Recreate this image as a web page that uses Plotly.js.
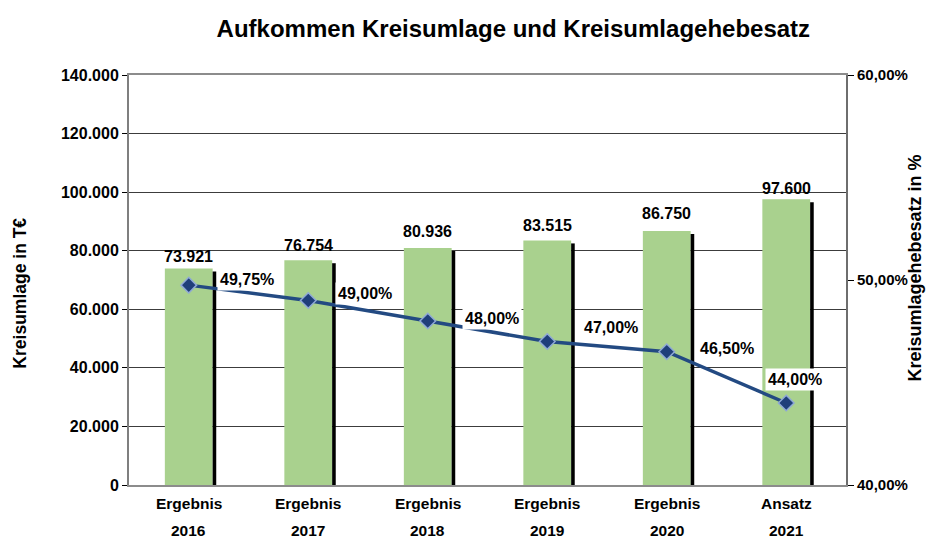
<!DOCTYPE html>
<html>
<head>
<meta charset="utf-8">
<script src="https://cdn.plot.ly/plotly-3.0.1.min.js"></script>
<style>
  html, body { margin: 0; padding: 0; background: #ffffff; }
  #chart { width: 930px; height: 554px; }
</style>
</head>
<body>
<div id="chart"></div>
<script>
// ---- data ----
const categories = ['2016', '2017', '2018', '2019', '2020', '2021'];
const periodTypes = ['Ergebnis', 'Ergebnis', 'Ergebnis', 'Ergebnis', 'Ergebnis', 'Ansatz'];
const umlageTEuro = [73921, 76754, 80936, 83515, 86750, 97600];
const hebesatzPct = [49.75, 49.00, 48.00, 47.00, 46.50, 44.00];

// ---- label placement (style, pixels) ----
const barLabelShift = [12, 15, 16, 15, 17, 11];
const pctLabelShiftX = [58, 57, 64, 64, 60, 9];
const pctLabelShiftY = [6, 7, 3, 14, 3, 24];

const FONT = 'Liberation Sans, Arial, sans-serif';

function fmtThousands(v) {
  return String(v).replace(/\B(?=(\d{3})+(?!\d))/g, '.');
}
function fmtPct(v) {
  return v.toFixed(2).replace('.', ',') + '%';
}

const shadowTrace = {
  type: 'bar',
  x: categories,
  y: umlageTEuro,
  yaxis: 'y2',
  marker: { color: '#000000', line: { width: 0 } },
  width: 0.03,
  offset: 0.2,
  hoverinfo: 'skip',
  showlegend: false
};

const barTrace = {
  type: 'bar',
  x: categories,
  y: umlageTEuro,
  yaxis: 'y',
  marker: { color: '#a9d18e', line: { width: 0 } },
  width: 0.4,
  offset: -0.2,
  showlegend: false
};

const lineTrace = {
  type: 'scatter',
  mode: 'lines+markers',
  x: categories,
  y: hebesatzPct,
  yaxis: 'y3',
  line: { color: '#234a82', width: 3.5 },
  marker: { symbol: 'diamond', size: 12, color: '#1f3f7a', line: { color: '#8fa9d6', width: 1.5 } },
  showlegend: false
};

const annotations = [];
categories.forEach((c, i) => {
  annotations.push({
    x: i, y: umlageTEuro[i], xref: 'x', yref: 'y',
    text: fmtThousands(umlageTEuro[i]),
    showarrow: false, xanchor: 'center', yanchor: 'middle',
    yshift: barLabelShift[i],
    font: { family: FONT, size: 16, color: '#000000', weight: 'bold' }
  });
  annotations.push({
    x: i, y: hebesatzPct[i], xref: 'x', yref: 'y3',
    text: fmtPct(hebesatzPct[i]),
    showarrow: false, xanchor: 'center', yanchor: 'middle',
    xshift: pctLabelShiftX[i], yshift: pctLabelShiftY[i],
    bgcolor: '#ffffff', borderpad: 2,
    font: { family: FONT, size: 16, color: '#000000', weight: 'bold' }
  });
  annotations.push({
    x: i, y: -0.044, xref: 'x', yref: 'paper',
    text: periodTypes[i], showarrow: false,
    xanchor: 'center', yanchor: 'middle',
    font: { family: FONT, size: 15.5, color: '#000000', weight: 'bold' }
  });
  annotations.push({
    x: i, y: -0.112, xref: 'x', yref: 'paper',
    text: c, showarrow: false,
    xanchor: 'center', yanchor: 'middle',
    font: { family: FONT, size: 15.5, color: '#000000', weight: 'bold' }
  });
});
annotations.push({
  x: -0.1513, y: 0.468, xref: 'paper', yref: 'paper',
  text: 'Kreisumlage in T€', textangle: -90, showarrow: false,
  xanchor: 'center', yanchor: 'middle',
  font: { family: FONT, size: 17.5, color: '#000000', weight: 'bold' }
});
annotations.push({
  x: 1.0976, y: 0.5305, xref: 'paper', yref: 'paper',
  text: 'Kreisumlagehebesatz in %', textangle: -90, showarrow: false,
  xanchor: 'center', yanchor: 'middle',
  font: { family: FONT, size: 18, color: '#000000', weight: 'bold' }
});

const layout = {
  width: 930,
  height: 554,
  margin: { l: 129, r: 84, t: 75, b: 69, pad: 0 },
  paper_bgcolor: '#ffffff',
  plot_bgcolor: '#ffffff',
  separators: ',.',
  showlegend: false,
  title: {
    text: 'Aufkommen Kreisumlage und Kreisumlagehebesatz',
    x: 0.552, xanchor: 'center', xref: 'container',
    y: 0.949, yanchor: 'middle', yref: 'container',
    font: { family: FONT, size: 24, color: '#000000', weight: 'bold' }
  },
  xaxis: {
    type: 'category',
    categoryorder: 'array',
    categoryarray: categories,
    range: [-0.5, categories.length - 0.5],
    autorange: false,
    showticklabels: false,
    ticks: '',
    showgrid: false,
    showline: true, linecolor: '#8c8c8c', linewidth: 2,
    mirror: true,
    zeroline: false,
    fixedrange: true
  },
  yaxis: {
    range: [0, 140000],
    autorange: false,
    dtick: 20000,
    tickformat: ',d',
    ticks: 'outside', ticklen: 5, tickcolor: '#000000', tickwidth: 1,
    showgrid: true, gridcolor: '#3c3c3c', gridwidth: 1,
    showline: true, linecolor: '#7f7f7f', linewidth: 2,
    zeroline: false,
    tickfont: { family: FONT, size: 16, color: '#000000', weight: 'bold' },
    fixedrange: true
  },
  yaxis2: {
    overlaying: 'y',
    range: [1025, 141025],
    autorange: false,
    visible: false,
    fixedrange: true
  },
  yaxis3: {
    overlaying: 'y',
    side: 'right',
    range: [40, 60],
    autorange: false,
    dtick: 10,
    tickformat: '.2f',
    ticksuffix: '%',
    ticks: 'outside', ticklen: 6, tickcolor: '#000000', tickwidth: 1,
    showgrid: false,
    showline: true, linecolor: '#6e6e6e', linewidth: 2,
    zeroline: false,
    tickfont: { family: FONT, size: 15, color: '#000000', weight: 'bold' },
    fixedrange: true
  },
  annotations: annotations
};

Plotly.newPlot('chart', [barTrace, shadowTrace, lineTrace], layout, { displayModeBar: false, staticPlot: true });
</script>
</body>
</html>
